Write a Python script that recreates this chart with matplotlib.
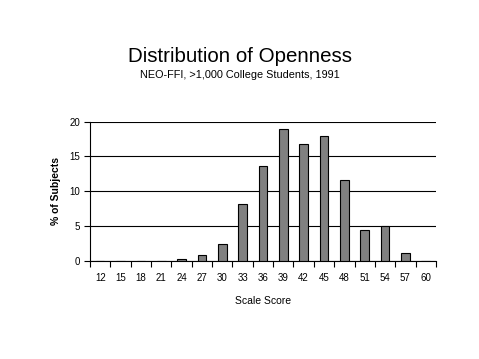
import numpy as np
import matplotlib.pyplot as plt

plt.rcParams['font.family'] = ['Liberation Sans', 'DejaVu Sans']

# Scores and percent of subjects
scores = [12, 15, 18, 21, 24, 27, 30, 33, 36, 39, 42, 45, 48, 51, 54, 57, 60]
percent = [0, 0, 0, 0, 0.2, 0.75, 2.35, 8.1, 13.6, 19.0, 16.8, 17.9, 11.55, 4.45, 4.95, 1.05, 0]

fig = plt.figure(figsize=(4.79, 3.59), dpi=100)
ax = fig.add_axes([0.188, 0.274, 0.722, 0.387])

x = np.arange(len(scores))
ax.bar(x, percent, width=0.42, color='#808080', edgecolor='black', linewidth=0.8, zorder=3)

ax.set_xlim(-0.5, len(scores) - 0.5)
ax.set_ylim(0, 20)
ax.set_yticks([0, 5, 10, 15, 20])
ax.yaxis.grid(True, color='black', linewidth=0.8)
ax.set_axisbelow(True)

# tick marks between categories, labels centered
ax.set_xticks(np.arange(len(scores) + 1) - 0.5)
ax.set_xticklabels([])
ax.set_xticks(x, minor=True)
ax.set_xticklabels([str(s) for s in scores], minor=True)
ax.tick_params(axis='x', which='minor', length=0, pad=9, labelsize=7)
ax.tick_params(axis='x', which='major', length=4, width=0.8, direction='out')
ax.tick_params(axis='y', length=4, width=0.8, labelsize=7, pad=3)

for s in ['top', 'right']:
    ax.spines[s].set_visible(False)
ax.spines['left'].set_linewidth(0.8)
ax.spines['bottom'].set_linewidth(0.8)

ax.set_ylabel('% of Subjects', fontsize=7.5, fontweight='bold', labelpad=6)
ax.set_xlabel('Scale Score', fontsize=7.5, labelpad=9)

fig.text(0.5, 0.843, 'Distribution of Openness', ha='center', va='center', fontsize=14.8)
fig.text(0.5, 0.79, 'NEO-FFI, >1,000 College Students, 1991', ha='center', va='center', fontsize=7.8)

plt.savefig('out.png', dpi=100)
